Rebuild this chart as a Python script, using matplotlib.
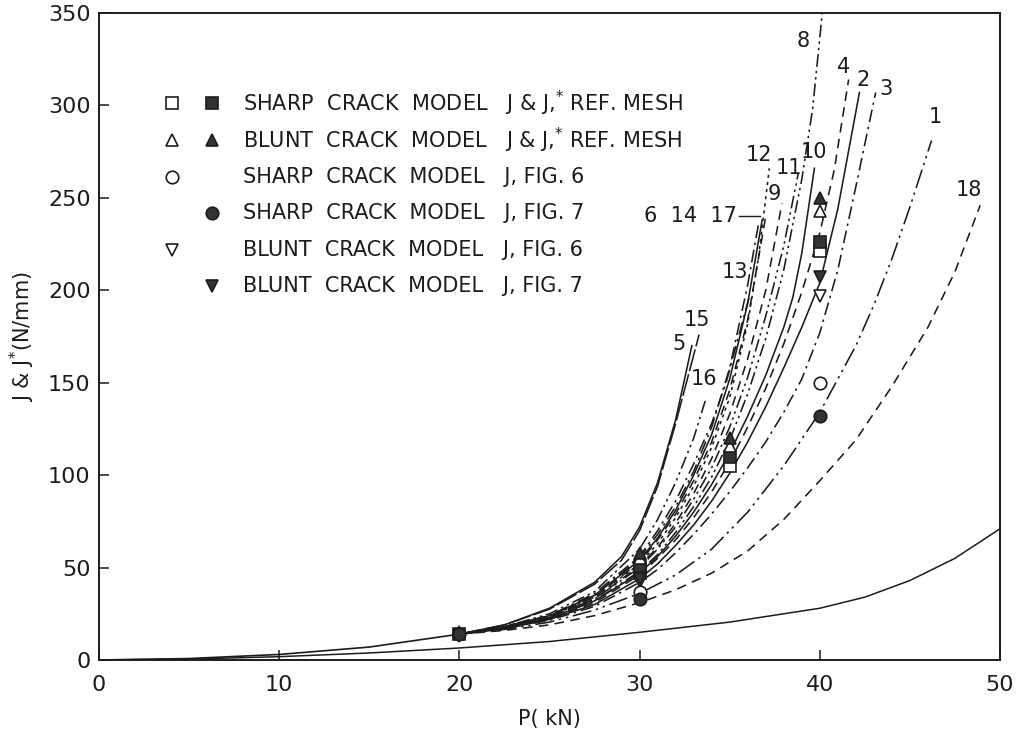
import matplotlib
matplotlib.use("Agg")
import matplotlib.pyplot as plt

plt.rcParams["font.family"] = ["DejaVu Sans"]
plt.rcParams["mathtext.default"] = "regular"

# ---------------- data ----------------
# common part of all elastic-plastic curves, 0..20 kN
P0 = [0, 5, 10, 15, 20]
J0 = [0, 0.8, 3, 7, 14]

# lower (elastic) solid curve
PL = [0, 5, 10, 15, 20, 25, 30, 35, 40, 42.5, 45, 47.5, 50]
JL = [0, 0.5, 1.8, 3.8, 6.5, 10, 15, 20.5, 28, 34, 43, 55, 71]

P1 = [20, 22.5, 25, 27.5, 30, 32, 34, 36, 38, 40, 42, 43, 44, 45, 46.2]
J1 = [14, 16.5, 20.5, 27, 36, 46, 60, 80, 105, 134, 170, 192, 217, 245, 281]
P2 = [20, 22.5, 25, 27.5, 30, 31, 32, 33, 34, 35, 36, 37, 38, 39, 40, 41, 42.2]
J2 = [14, 17, 22, 30, 44, 52, 62, 73, 86, 101, 118, 137, 158, 180, 204, 244, 307]
P3 = [20, 22.5, 25, 27.5, 30, 31, 32, 33, 34, 35, 36, 37, 38, 39, 40, 41, 42, 43.1]
J3 = [14, 17, 21.5, 29, 42, 49, 58, 68, 79, 91, 104, 118, 134, 152, 177, 211, 256, 307]
P4 = [20, 22.5, 25, 27.5, 30, 31, 32, 33, 34, 35, 36, 37, 38, 39, 40, 40.8, 41.6]
J4 = [14, 17, 22, 31, 46, 55, 65, 77, 91, 107, 126, 147, 171, 199, 231, 265, 314]
P5 = [20, 22.5, 25, 27.5, 29, 30, 31, 32, 32.9]
J5 = [14, 19, 28, 42, 56, 72, 96, 130, 170]
P6 = [20, 22.5, 25, 27.5, 30, 31, 32, 33, 34, 35, 36, 36.6]
J6 = [14, 18, 24, 35, 55, 68, 83, 102, 126, 158, 203, 236]
P8 = [20, 22.5, 25, 27.5, 30, 31, 32, 33, 34, 35, 36, 37, 38, 39, 39.6, 40.2]
J8 = [14, 17.5, 22.5, 32, 48, 57, 69, 83, 99, 119, 144, 174, 211, 260, 298, 356]
P9 = [20, 22.5, 25, 27.5, 30, 31, 32, 33, 34, 35, 36, 37, 37.9]
J9 = [14, 17.5, 23, 33, 51, 61, 74, 90, 109, 133, 163, 200, 247]
P10 = [20, 22.5, 25, 27.5, 30, 31, 32, 33, 34, 35, 36, 37, 38, 38.5, 39, 39.7]
J10 = [14, 17.5, 22.5, 32, 47, 56, 67, 80, 95, 112, 132, 154, 180, 196, 220, 266]
P11 = [20, 22.5, 25, 27.5, 30, 31, 32, 33, 34, 35, 36, 37, 38, 38.8]
J11 = [14, 17.5, 23, 33, 50, 60, 72, 87, 104, 126, 153, 186, 224, 263]
P12 = [20, 22.5, 25, 27.5, 30, 31, 32, 33, 34, 35, 36, 36.6, 37.2]
J12 = [14, 18, 23.5, 34, 52, 63, 77, 94, 115, 142, 182, 218, 266]
P13 = [20, 22.5, 25, 27.5, 30, 31, 32, 33, 34, 34.8, 36.1]
J13 = [14, 18, 24, 36, 56, 70, 86, 106, 128, 150, 197]
P14 = [20, 22.5, 25, 27.5, 30, 31, 32, 33, 34, 35, 36, 36.8]
J14 = [14, 18, 24, 35, 54, 66, 81, 100, 122, 152, 193, 238]
P15 = [20, 22.5, 25, 27.5, 29, 30, 31, 32, 33.3]
J15 = [14, 19, 27.5, 41, 54, 70, 94, 128, 176]
P16 = [20, 22.5, 25, 27.5, 30, 31, 32, 33, 33.7]
J16 = [14, 18, 25, 37, 60, 76, 96, 120, 142]
P17 = [20, 22.5, 25, 27.5, 30, 31, 32, 33, 34, 35, 36, 37]
J17 = [14, 18, 23.5, 34, 53, 65, 79, 97, 118, 146, 184, 240]
P18 = [20, 22.5, 25, 27.5, 30, 32, 34, 36, 38, 40, 42, 44, 46, 47.5, 48.9]
J18 = [14, 16, 19, 24, 31, 38, 47, 59, 76, 97, 119, 148, 180, 210, 246]

# markers: open / filled versions at each load level
SQ_OPEN_P, SQ_OPEN_J = [30, 35, 40], [47, 105, 221]
SQ_FILL_P, SQ_FILL_J = [20, 30, 35, 40], [14, 51, 110, 226]
TRI_OPEN_P, TRI_OPEN_J = [30, 35, 40], [55, 116, 243]
TRI_FILL_P, TRI_FILL_J = [20, 30, 35, 40], [15, 58, 120, 250]
CIR_OPEN_P, CIR_OPEN_J = [30, 40], [37, 150]
CIR_FILL_P, CIR_FILL_J = [20, 30, 40], [14, 33, 132]
DTR_OPEN_P, DTR_OPEN_J = [30, 40], [42, 197]
DTR_FILL_P, DTR_FILL_J = [20, 30, 40], [13, 44, 207]

LEGEND_TEXT = [
    r"SHARP  CRACK  MODEL   J & J,$^{*}$ REF. MESH",
    r"BLUNT  CRACK  MODEL   J & J,$^{*}$ REF. MESH",
    "SHARP  CRACK  MODEL   J, FIG. 6",
    "SHARP  CRACK  MODEL   J, FIG. 7",
    "BLUNT  CRACK  MODEL   J, FIG. 6",
    "BLUNT  CRACK  MODEL   J, FIG. 7",
]

# ---------------- styles ----------------
INK = "#1c1c1c"
SOLID = "-"
DASH = (0, (6, 4))
DASHDOT = (0, (8, 3, 1.5, 3))
DASH2DOT = (0, (8, 2.5, 1.5, 2.5, 1.5, 2.5))
LONG2DOT = (0, (12, 3, 1.5, 3, 1.5, 3))
DOTTED = (0, (2, 2.5))

curves = [
    (P1, J1, LONG2DOT), (P2, J2, SOLID), (P3, J3, DASHDOT), (P4, J4, DASH),
    (P5, J5, SOLID), (P6, J6, DASHDOT), (P8, J8, DASH2DOT), (P9, J9, DASH),
    (P10, J10, SOLID), (P11, J11, DASH2DOT), (P12, J12, DOTTED),
    (P13, J13, DASHDOT), (P14, J14, SOLID), (P15, J15, (0, (14, 2))),
    (P16, J16, DASH2DOT), (P17, J17, DASH), (P18, J18, DASH),
]

# curve labels (P, J, text)
LABELS = [
    (39.1, 335, "8"), (41.3, 321, "4"), (42.4, 314, "2"), (43.7, 309, "3"),
    (46.4, 294, "1"), (48.3, 254, "18"), (39.7, 275, "10"), (38.3, 266, "11"),
    (37.5, 252, "9"), (36.6, 273, "12"), (35.3, 210, "13"), (33.2, 184, "15"),
    (32.2, 171, "5"), (33.6, 152, "16"),
]

W, H = 1019, 736
fig = plt.figure(figsize=(W / 100, H / 100), dpi=100)
fig.patch.set_facecolor("white")
ax = fig.add_axes([99 / W, (H - 660) / H, 901 / W, 647 / H])

ax.plot(P0, J0, color=INK, lw=1.2, ls=SOLID)
ax.plot(PL, JL, color=INK, lw=1.1, ls=SOLID)
for p, j, ls in curves:
    ax.plot(p, j, color=INK, lw=1.15, ls=ls)

mk = dict(ls="none", markersize=9, markeredgecolor=INK, markeredgewidth=1.2, zorder=5)
ax.plot(SQ_OPEN_P, SQ_OPEN_J, marker="s", markerfacecolor="white", **mk)
ax.plot(SQ_FILL_P, SQ_FILL_J, marker="s", markerfacecolor="#333333", **mk)
ax.plot(DTR_OPEN_P, DTR_OPEN_J, marker="v", markerfacecolor="white", **mk)
ax.plot(DTR_FILL_P, DTR_FILL_J, marker="v", markerfacecolor="#333333", **mk)
ax.plot(TRI_OPEN_P, TRI_OPEN_J, marker="^", markerfacecolor="white", **mk)
ax.plot(TRI_FILL_P, TRI_FILL_J, marker="^", markerfacecolor="#333333", **mk)
ax.plot(CIR_OPEN_P, CIR_OPEN_J, marker="o", markerfacecolor="white", **mk)
ax.plot(CIR_FILL_P, CIR_FILL_J, marker="o", markerfacecolor="#333333", **mk)

for p, j, t in LABELS:
    ax.text(p, j, t, fontsize=15, color=INK, ha="center", va="center")
ax.text(35.4, 240, "6  14  17", fontsize=15, color=INK, ha="right", va="center")
ax.plot([35.5, 36.7], [240, 240], color=INK, lw=1.0)

ax.set_xlim(0, 50)
ax.set_ylim(0, 350)
ax.set_xticks([0, 10, 20, 30, 40, 50])
ax.set_yticks([0, 50, 100, 150, 200, 250, 300, 350])
ax.tick_params(direction="in", length=7, width=1.1, labelsize=16, colors=INK)
ax.tick_params(axis="x", pad=11)
ax.tick_params(axis="y", pad=6)
for s in ax.spines.values():
    s.set_linewidth(1.4)
    s.set_color(INK)

ax.set_xlabel("P( kN)", fontsize=15, color=INK, labelpad=10)
ax.set_ylabel(r"J & J$^{*}$(N/mm)", fontsize=15, color=INK, labelpad=8)

# hand-drawn legend block
def fx(x):
    return x / W

def fy(y):
    return 1 - y / H

legend_y = [103, 140, 177, 213, 250, 286]
lmk = dict(markersize=9, markeredgecolor=INK, markeredgewidth=1.2, ls="none",
           transform=fig.transFigure)
rows = [("s", "s"), ("^", "^"), ("o", None), (None, "o"), ("v", None), (None, "v")]
for y, (mo, mf), txt in zip(legend_y, rows, LEGEND_TEXT):
    if mo:
        fig.lines.append(plt.Line2D([fx(172)], [fy(y)], marker=mo,
                                    markerfacecolor="white", **lmk))
    if mf:
        fig.lines.append(plt.Line2D([fx(212)], [fy(y)], marker=mf,
                                    markerfacecolor="#333333", **lmk))
    fig.text(fx(243), fy(y), txt, fontsize=15, color=INK, ha="left", va="center")

fig.savefig("out.png", dpi=100)
